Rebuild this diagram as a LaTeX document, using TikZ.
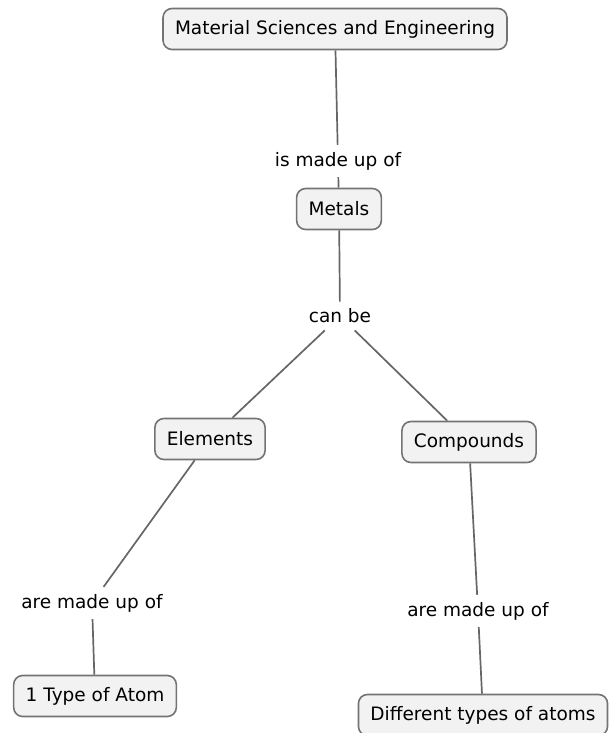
\documentclass[tikz,border=0pt]{standalone}
\usepackage{fontspec}
\setmainfont{DejaVu Sans}
\usetikzlibrary{positioning}

\tikzset{
  concept/.style={draw=black!55,line width=1.6pt,fill=black!5,rounded corners=9pt,
    inner xsep=12pt,minimum height=41pt,font=\fontsize{18.5}{21}\selectfont},
  phrase/.style={fill=white,inner sep=7pt,font=\fontsize{18.5}{21}\selectfont},
  link/.style={draw=black!60,line width=1.7pt}
}

\begin{document}
\begin{tikzpicture}[x=1pt,y=-1pt]
  \useasboundingbox (0,0) rectangle (609,733);

  % concepts
  \node[concept] (mse) at (335,29) {Material Sciences and Engineering};
  \node[concept] (metals) at (339,209) {Metals};
  \node[concept] (elem) at (210,439) {Elements};
  \node[concept] (comp) at (469,442) {Compounds};
  \node[concept] (one) at (95,696) {1 Type of Atom};
  \node[concept] (diff) at (483,715) {Different types of atoms};

  % linking phrases
  \node[phrase] (p_1) at (338,161) {is made up of};
  \node[phrase] (p_2) at (340,316) {can be};
  \node[phrase] (p_3) at (92,603) {are made up of};
  \node[phrase] (p_4) at (478,611) {are made up of};

  \path[link]
    (mse) edge (p_1)
    (p_1) edge (metals)
    (metals) edge (p_2)
    (p_2) edge (elem)
    (p_2) edge (comp)
    (elem) edge (p_3)
    (p_3) edge (one)
    (comp) edge (p_4)
    (p_4) edge (diff);
\end{tikzpicture}
\end{document}
